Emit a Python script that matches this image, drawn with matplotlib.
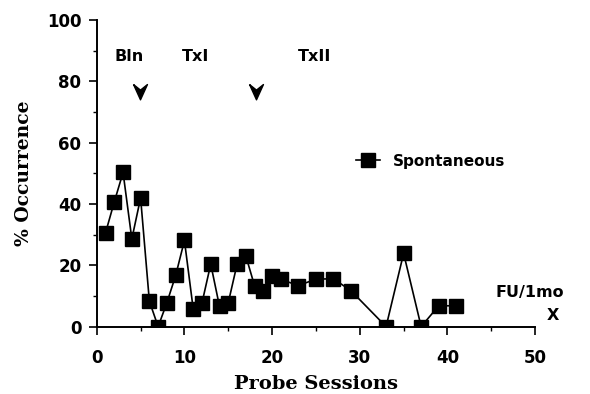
import matplotlib
matplotlib.use("Agg")
import matplotlib.pyplot as plt
import numpy as np

# probe sessions and % occurrence of spontaneous responses
sessions = [1, 2, 3, 4, 5, 6, 7, 8, 9, 10, 11, 12, 13, 14, 15, 16, 17, 18, 19, 20,
            21, 23, 25, 27, 29, 33, 35, 37, 39, 41]
spontaneous = [30.6, 40.7, 50.3, 28.6, 42.0, 8.3, 0, 7.8, 16.7, 28.1, 5.8, 7.7, 20.4,
               6.6, 7.8, 20.3, 23.1, 13.3, 11.7, 16.6, 15.4, 13.4, 15.5, 15.6, 11.7,
               0, 23.9, 0, 6.8, 6.8]

phase_labels = ["Bln", "TxI", "TxII"]
phase_x = [3.7, 11.3, 24.8]
phase_changes = [4.9, 18.2]

fig = plt.figure(figsize=(5.9, 3.94), dpi=100)
ax = fig.add_axes([0.164, 0.171, 0.743, 0.778])

line, = ax.plot(sessions, spontaneous, color="black", lw=1.2, marker="s",
                markersize=9.5, markerfacecolor="black", markeredgecolor="black",
                label="Spontaneous")

ax.set_xlim(0, 50)
ax.set_ylim(0, 100)
ax.set_xticks(np.arange(0, 51, 10))
ax.set_xticks(np.arange(5, 50, 10), minor=True)
ax.set_yticks(np.arange(0, 101, 20))
ax.set_yticks(np.arange(10, 100, 20), minor=True)
ax.tick_params(which="major", direction="out", length=6, width=1.2,
               labelsize=12)
ax.tick_params(axis="x", which="major", pad=10)
ax.tick_params(axis="y", which="major", pad=5)
ax.tick_params(which="minor", direction="out", length=3, width=1.0)
for lbl in ax.get_xticklabels() + ax.get_yticklabels():
    lbl.set_fontweight("bold")
for s in ["top", "right"]:
    ax.spines[s].set_visible(False)
for s in ["left", "bottom"]:
    ax.spines[s].set_linewidth(1.4)

ax.set_xlabel("Probe Sessions", family="DejaVu Serif", fontweight="bold",
              fontsize=14, labelpad=6)
ax.set_ylabel("% Occurrence", family="DejaVu Serif", fontweight="bold",
              fontsize=13.5, labelpad=10)

for name, xp in zip(phase_labels, phase_x):
    ax.text(xp, 88, name, ha="center", va="center", fontsize=11.5,
            fontweight="bold")

chevron = [(-1, 1), (0, -1.2), (1, 1), (0, 0.2), (-1, 1)]
ax.plot(phase_changes, [77] * len(phase_changes), linestyle="none",
        marker=chevron, markersize=12, color="black")

ax.legend(handles=[line], loc="center left", bbox_to_anchor=(0.56, 0.54),
          frameon=False, handlelength=1.6, handletextpad=0.8,
          prop={"weight": "bold", "size": 11})

ax.text(49.4, 11, "FU/1mo", ha="center", va="center", fontsize=11.5,
        fontweight="bold", clip_on=False)
ax.text(52, 3.5, "X", ha="center", va="center", fontsize=11.5,
        fontweight="bold", clip_on=False)

fig.savefig("out.png", dpi=100)
